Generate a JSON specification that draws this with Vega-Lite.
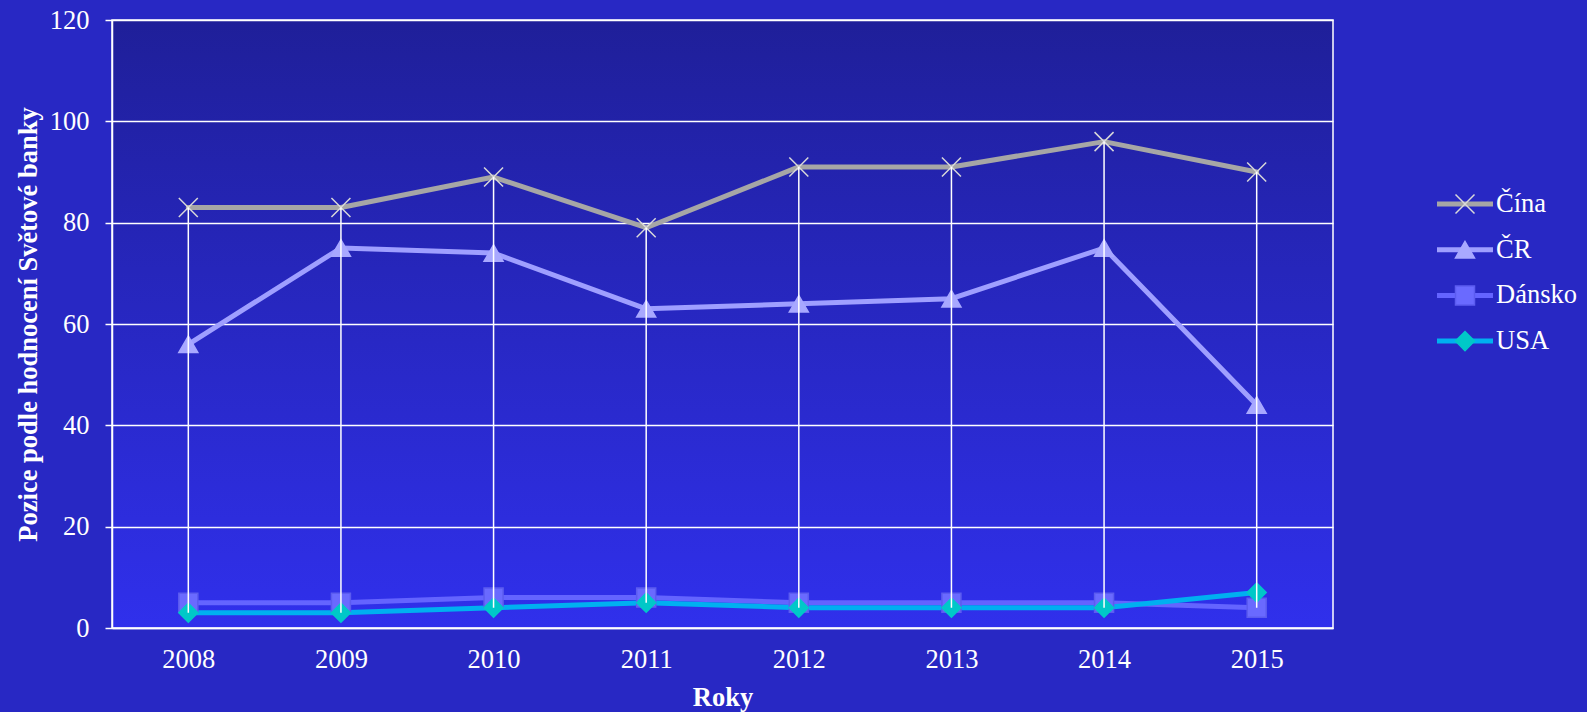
{
  "$schema": "https://vega.github.io/schema/vega-lite/v6.json",
  "width": 1221,
  "height": 608,
  "autosize": {"type": "none"},
  "padding": {"left": 112, "top": 20, "right": 254, "bottom": 84},
  "background": "#2828c4",
  "view": {
    "fill": {"gradient": "linear", "x1": 0, "y1": 0, "x2": 0, "y2": 1,
      "stops": [{"offset": 0, "color": "#1f1f99"}, {"offset": 1, "color": "#3030ec"}]},
    "stroke": "white",
    "strokeWidth": 1.5
  },
  "data": {"values": [
    {"rok": "2008", "zeme": "Čína", "hodnota": 83},
    {"rok": "2009", "zeme": "Čína", "hodnota": 83},
    {"rok": "2010", "zeme": "Čína", "hodnota": 89},
    {"rok": "2011", "zeme": "Čína", "hodnota": 79},
    {"rok": "2012", "zeme": "Čína", "hodnota": 91},
    {"rok": "2013", "zeme": "Čína", "hodnota": 91},
    {"rok": "2014", "zeme": "Čína", "hodnota": 96},
    {"rok": "2015", "zeme": "Čína", "hodnota": 90},
    {"rok": "2008", "zeme": "ČR", "hodnota": 56},
    {"rok": "2009", "zeme": "ČR", "hodnota": 75},
    {"rok": "2010", "zeme": "ČR", "hodnota": 74},
    {"rok": "2011", "zeme": "ČR", "hodnota": 63},
    {"rok": "2012", "zeme": "ČR", "hodnota": 64},
    {"rok": "2013", "zeme": "ČR", "hodnota": 65},
    {"rok": "2014", "zeme": "ČR", "hodnota": 75},
    {"rok": "2015", "zeme": "ČR", "hodnota": 44},
    {"rok": "2008", "zeme": "Dánsko", "hodnota": 5},
    {"rok": "2009", "zeme": "Dánsko", "hodnota": 5},
    {"rok": "2010", "zeme": "Dánsko", "hodnota": 6},
    {"rok": "2011", "zeme": "Dánsko", "hodnota": 6},
    {"rok": "2012", "zeme": "Dánsko", "hodnota": 5},
    {"rok": "2013", "zeme": "Dánsko", "hodnota": 5},
    {"rok": "2014", "zeme": "Dánsko", "hodnota": 5},
    {"rok": "2015", "zeme": "Dánsko", "hodnota": 4},
    {"rok": "2008", "zeme": "USA", "hodnota": 3},
    {"rok": "2009", "zeme": "USA", "hodnota": 3},
    {"rok": "2010", "zeme": "USA", "hodnota": 4},
    {"rok": "2011", "zeme": "USA", "hodnota": 5},
    {"rok": "2012", "zeme": "USA", "hodnota": 4},
    {"rok": "2013", "zeme": "USA", "hodnota": 4},
    {"rok": "2014", "zeme": "USA", "hodnota": 4},
    {"rok": "2015", "zeme": "USA", "hodnota": 7}
  ]},
  "encoding": {
    "x": {
      "field": "rok", "type": "ordinal",
      "scale": {"type": "point", "padding": 0.5},
      "axis": {
        "title": "Roky", "labelAngle": 0, "grid": false, "ticks": false,
        "domainColor": "white", "domainWidth": 1.5,
        "labelFont": "Liberation Serif", "labelFontSize": 26.5, "labelColor": "white", "labelPadding": 18,
        "titleFont": "Liberation Serif", "titleFontSize": 26.5, "titleFontWeight": "bold", "titleColor": "white", "titlePadding": 12
      }
    },
    "y": {
      "field": "hodnota", "type": "quantitative",
      "scale": {"domain": [0, 120], "nice": false, "zero": true},
      "axis": {
        "title": "Pozice podle hodnocení Světové banky",
        "values": [0, 20, 40, 60, 80, 100, 120],
        "grid": true, "gridColor": "white", "gridWidth": 1.5, "gridOpacity": 1,
        "domainColor": "white", "domainWidth": 1.5,
        "tickColor": "white", "tickSize": 7, "tickWidth": 1.5,
        "labelFont": "Liberation Serif", "labelFontSize": 26.5, "labelColor": "white", "labelPadding": 16,
        "labelFlush": false, "labelOverlap": false,
        "titleFont": "Liberation Serif", "titleFontSize": 26.5, "titleFontWeight": "bold", "titleColor": "white", "titlePadding": 7
      }
    }
  },
  "layer": [
    {
      "mark": {"type": "line", "strokeWidth": 5, "strokeCap": "round", "strokeJoin": "round"},
      "encoding": {
        "color": {
          "field": "zeme", "type": "nominal", "sort": null,
          "scale": {"range": ["#a6a6a6", "#9f9fff", "#6464ff", "#00b0f0"]},
          "legend": {
            "title": null, "orient": "none", "legendX": 1322.5, "legendY": 169, "padding": 0,
            "symbolType": "stroke", "symbolSize": 3136, "symbolStrokeWidth": 5, "symbolOffset": 0,
            "clipHeight": 30, "rowPadding": 15.7, "labelOffset": 0.5,
            "labelFont": "Liberation Serif", "labelFontSize": 26.5, "labelColor": "white", "labelLimit": 300
          }
        }
      }
    },
    {
      "mark": {"type": "point", "filled": true, "size": 361, "strokeWidth": 1.5, "opacity": 1},
      "encoding": {
        "fill": {
          "field": "zeme", "type": "nominal",
          "scale": {"domain": ["Čína", "ČR", "Dánsko", "USA"], "range": ["#d9d9d9", "#a8a8ff", "#6a6aff", "#00c8c8"]},
          "legend": {
            "title": null, "orient": "none", "legendX": 1322.5, "legendY": 169, "padding": 0,
            "symbolSize": 361, "symbolStrokeWidth": 1.5, "symbolOffset": 17.25,
            "clipHeight": 30, "rowPadding": 15.7, "labelOffset": 0.5, "labelExpr": "''",
            "labelFont": "Liberation Serif", "labelFontSize": 26.5, "labelColor": "white", "labelLimit": 300
          }
        },
        "stroke": {
          "field": "zeme", "type": "nominal",
          "scale": {"domain": ["Čína", "ČR", "Dánsko", "USA"], "range": ["#d9d9d9", "#a8a8ff", "#5c5cf0", "#00c8c8"]},
          "legend": {
            "title": null, "orient": "none", "legendX": 1322.5, "legendY": 169, "padding": 0,
            "symbolSize": 361, "symbolStrokeWidth": 1.5, "symbolOffset": 17.25,
            "clipHeight": 30, "rowPadding": 15.7, "labelOffset": 0.5, "labelExpr": "''",
            "labelFont": "Liberation Serif", "labelFontSize": 26.5, "labelColor": "white", "labelLimit": 300
          }
        },
        "shape": {
          "field": "zeme", "type": "nominal",
          "scale": {"domain": ["Čína", "ČR", "Dánsko", "USA"], "range": ["M-1,-1L1,1M-1,1L1,-1", "triangle-up", "square", "diamond"]},
          "legend": {
            "title": null, "orient": "none", "legendX": 1322.5, "legendY": 169, "padding": 0,
            "symbolSize": 361, "symbolStrokeWidth": 1.5, "symbolOffset": 17.25,
            "clipHeight": 30, "rowPadding": 15.7, "labelOffset": 0.5, "labelExpr": "''",
            "labelFont": "Liberation Serif", "labelFontSize": 26.5, "labelColor": "white", "labelLimit": 300
          }
        }
      }
    },
    {
      "mark": {"type": "rule", "color": "white", "strokeWidth": 1.5},
      "encoding": {
        "y": {"aggregate": "min", "field": "hodnota", "type": "quantitative"},
        "y2": {"aggregate": "max", "field": "hodnota"}
      }
    }
  ]
}
